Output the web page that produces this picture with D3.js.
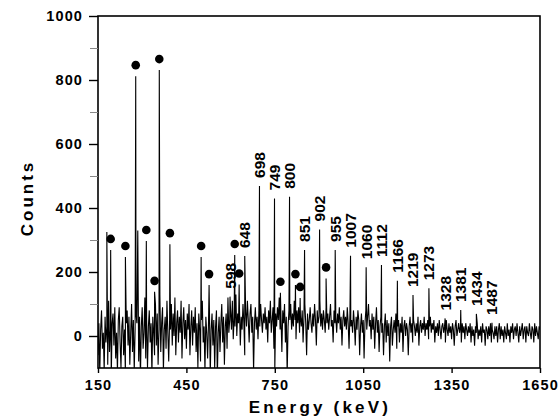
<!DOCTYPE html>
<html>
<head>
<meta charset="utf-8">
<script src="https://cdn.jsdelivr.net/npm/d3@7"></script>
<style>
  body { margin: 0; background: #fff; }
  svg { display: block; }
  text { font-family: "Liberation Sans", Arial, Helvetica, sans-serif; font-weight: bold; fill: #000; }
</style>
</head>
<body>
<div id="chart"></div>
<script>
// background spectrum, one value every 3 keV from 150 keV
const bgStart = 150;
const bgStep = 3;
const bgCounts = [
  -60, 40, -120, 20, 80, -40, 10, -110, 60, -20,
  30, -90, 110, -50, 20, -130, 40, 70, -30, 90,
  -70, 10, -110, 50, 90, -20, -100, 30, 60, -60,
  20, -120, 40, 80, -30, 60, -90, 10, 100, -50,
  50, -110, 20, 70, 40, 330, -80, 60, -130, 30,
  90, -40, 10, 120, -70, 50, -100, 30, 80, -20,
  40, -120, 60, 10, -60, 100, -30, 70, -90, 20,
  130, -50, 40, 90, -110, 20, 60, -40, 110, 10,
  -80, 50, 20, 100, -30, 70, 0, 120, -60, 40,
  80, -20, 60, 10, 110, -70, 40, 90, -10, 50,
  -40, 70, 20, 100, -60, 30, 80, -30, 60, 10,
  90, -50, 40, -100, 70, 20, -80, 50, 110, -20,
  30, -110, 60, 10, -70, 40, 90, -120, 20, 70,
  -30, 50, -100, 30, 80, -130, 10, 60, -50, 40,
  100, -20, 60, -90, 30, 70, -40, 120, 10, 50,
  80, 20, 110, -10, 60, 30, 130, 0, 70, 40,
  90, -30, 60, 20, 100, 40, -60, 80, 30, 110,
  50, -20, 70, 100, 10, 60, -110, 40, 90, 20,
  60, -10, 80, 30, 100, 50, 10, 70, 40, 90,
  20, 60, -20, 80, 40, 110, 10, 50, 90, -40,
  -110, 70, 30, 90, 50, 120, 20, 60, -50, 80,
  40, 100, -20, 60, -120, 30, 80, 50, 100, 20,
  70, 30, 110, 50, -10, 80, 40, 90, 10, 60,
  30, 80, -20, 60, 100, 40, -60, 70, 20, 50,
  90, 40, 10, 70, 30, 100, 50, -30, 80, 40,
  60, 110, 30, 70, 20, 80, 50, 10, 90, 40,
  70, 20, 60, 100, 30, 50, -20, 80, 40, 60,
  10, 70, 40, 90, 20, 60, -30, 50, 80, 30,
  60, 20, 90, 40, -40, 70, 30, 50, 10, 80,
  40, -30, 60, 20, 80, 50, -60, 30, 70, 10,
  50, -70, 40, 80, 20, 60, 100, 30, 50, -10,
  70, 20, 60, -40, 40, 90, 10, 50, -50, 30,
  60, 10, 40, -60, 30, 70, -20, 50, 0, 40,
  -80, 30, 60, -30, 20, 50, 10, 70, -40, 30,
  50, -20, 40, 10, 60, -50, 30, 50, 0, 40,
  20, -60, 30, 60, 10, 40, -20, 50, 30, 0,
  40, 10, 60, -30, 30, 50, 10, 40, 20, 60,
  0, 40, 20, 50, -10, 30, 60, 10, 40, 20,
  50, -20, 30, 10, 40, 0, 50, 20, -10, 30,
  40, 10, 30, -20, 50, 20, 0, 40, 10, 30,
  -10, 40, 20, -30, 30, 50, 0, 20, 40, 10,
  30, -20, 40, 10, 30, -10, 40, 20, 0, 30,
  10, 40, -20, 30, 0, 20, -30, 30, 10, 40,
  -10, 20, 0, 30, -20, 40, 10, 20, -30, 30,
  20, -10, 30, 0, 40, -20, 20, 10, -10, 30,
  0, 30, -20, 20, 40, -10, 30, 0, 20, -20,
  30, 10, -10, 40, 0, 20, -20, 30, 10, 40,
  -10, 20, 30, 0, 40, 10, -20, 30, 0, 20,
  40, -10, 20, 30, -20, 30, 10, 0, 40, 10,
  -10, 30, 20, -20, 40, 0, 30, 10, -10, 30,
  20
];

// peaks marked with a dot: [energy keV, counts]
const markedPeaks = [
  [193, 269], [243, 247], [278, 812], [314, 297], [342, 138],
  [358, 831], [394, 287], [500, 247], [527, 159], [614, 253],
  [629, 161], [769, 135], [820, 159], [836, 119], [924, 180]
];

// peaks with an energy label
const labelledPeaks = [
  [598, 123], [648, 250], [698, 469], [749, 430], [800, 435],
  [851, 269], [902, 333], [955, 269], [1007, 251], [1060, 215],
  [1112, 222], [1166, 173], [1219, 128], [1273, 149], [1328, 55],
  [1381, 81], [1434, 69], [1487, 41]
];

// other unlabelled lines
const otherPeaks = [[180, 325]];

const xTicks = [150, 450, 750, 1050, 1350, 1650];
const yTicks = [0, 200, 400, 600, 800, 1000];
const yMinorTicks = [100, 300, 500, 700, 900];

const width = 559, height = 417;
const x = d3.scaleLinear().domain([150, 1650]).range([98, 540]);
const y = d3.scaleLinear().domain([-100, 1000]).range([368, 16]);

const svg = d3.select('#chart').append('svg')
  .attr('width', width)
  .attr('height', height);

svg.append('defs').append('clipPath').attr('id', 'plot-clip')
  .append('rect')
  .attr('x', x(150)).attr('y', y(1000))
  .attr('width', x(1650) - x(150))
  .attr('height', y(-100) - y(1000));

// build spectrum from background + peaks
const spectrum = bgCounts.map((c, i) => [bgStart + i * bgStep, c])
  .concat(markedPeaks, labelledPeaks, otherPeaks)
  .sort((a, b) => a[0] - b[0]);

const line = d3.line()
  .x(d => x(d[0]))
  .y(d => y(d[1]));

svg.append('path')
  .datum(spectrum)
  .attr('clip-path', 'url(#plot-clip)')
  .attr('fill', 'none')
  .attr('stroke', '#000')
  .attr('stroke-width', 1.1)
  .attr('d', line);

// dots above marked peaks
svg.append('g').selectAll('circle')
  .data(markedPeaks)
  .join('circle')
  .attr('cx', d => x(d[0]))
  .attr('cy', d => y(d[1]) - 11)
  .attr('r', 4.3)
  .attr('fill', '#000');

// energy labels
svg.append('g').selectAll('text')
  .data(labelledPeaks)
  .join('text')
  .attr('transform', d => `translate(${x(d[0]) + 5.5},${y(d[1]) - 8}) rotate(-90)`)
  .attr('font-size', '15.5px')
  .text(d => d[0]);

// frame
svg.append('rect')
  .attr('x', x(150)).attr('y', y(1000))
  .attr('width', x(1650) - x(150))
  .attr('height', y(-100) - y(1000))
  .attr('fill', 'none')
  .attr('stroke', '#000')
  .attr('stroke-width', 1.6);

// y axis
const yAxis = svg.append('g')
  .attr('transform', `translate(${x(150)},0)`)
  .call(d3.axisLeft(y).tickValues(yTicks).tickFormat(d3.format('d')).tickSize(9).tickPadding(6));
yAxis.select('.domain').remove();
yAxis.selectAll('line').attr('stroke-width', 1.4);
yAxis.selectAll('text')
  .attr('font-size', '14.5px')
  .attr('font-family', '"Liberation Sans", Arial, sans-serif')
  .attr('font-weight', 'bold')
  .attr('letter-spacing', '1.1px');

svg.append('g')
  .attr('transform', `translate(${x(150)},0)`)
  .call(d3.axisLeft(y).tickValues(yMinorTicks).tickSize(8).tickFormat(''))
  .call(g => g.select('.domain').remove())
  .selectAll('line').attr('stroke', '#888');

// x axis
const xAxis = svg.append('g')
  .attr('transform', `translate(0,${y(-100)})`)
  .call(d3.axisBottom(x).tickValues(xTicks).tickFormat(d3.format('d')).tickSize(5).tickPadding(7));
xAxis.select('.domain').remove();
xAxis.selectAll('line').attr('stroke-width', 1.4);
xAxis.selectAll('text')
  .attr('font-size', '14.5px')
  .attr('font-family', '"Liberation Sans", Arial, sans-serif')
  .attr('font-weight', 'bold')
  .attr('letter-spacing', '1.1px');

// axis titles
svg.append('text')
  .attr('x', 320)
  .attr('y', 413)
  .attr('text-anchor', 'middle')
  .attr('font-size', '17px')
  .attr('letter-spacing', '3.2px')
  .text('Energy (keV)');

svg.append('text')
  .attr('transform', 'translate(33,198) rotate(-90)')
  .attr('text-anchor', 'middle')
  .attr('font-size', '17px')
  .attr('letter-spacing', '3px')
  .text('Counts');
</script>
</body>
</html>
